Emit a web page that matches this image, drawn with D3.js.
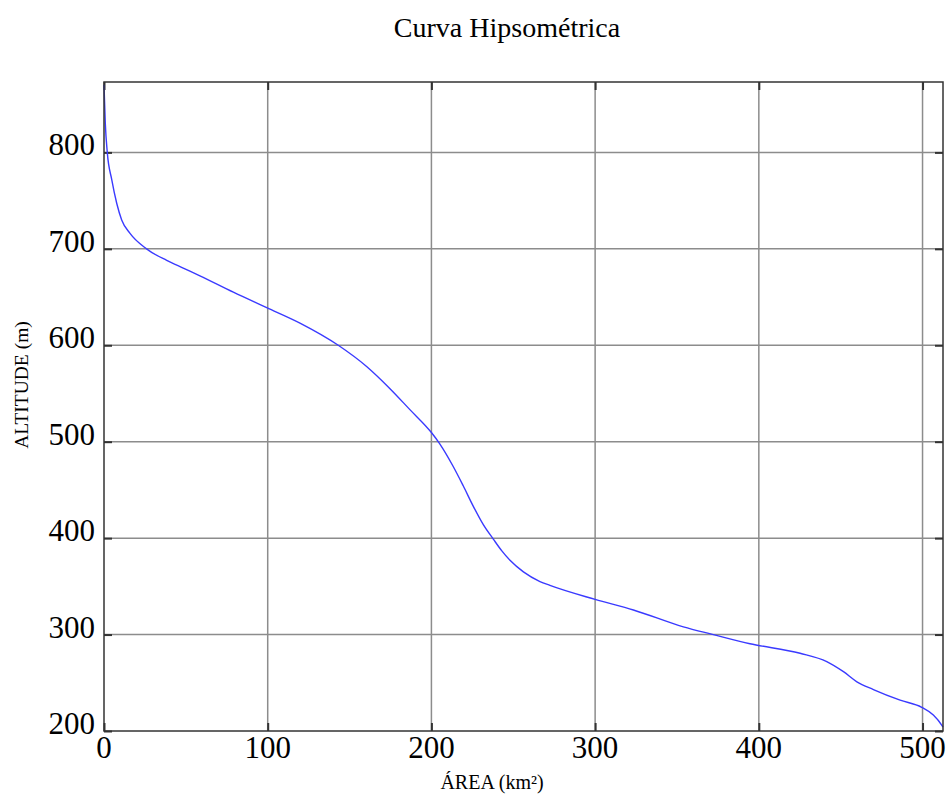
<!DOCTYPE html>
<html><head><meta charset="utf-8">
<script src="https://cdn.jsdelivr.net/npm/d3@7"></script>
<style>body{margin:0;background:#fff}svg{display:block}text{font-family:"Liberation Serif","Times New Roman",serif;fill:#000}</style>
</head><body>
<script>
const title = "Curva Hipsométrica";
const xLabel = "ÁREA (km²)";
const yLabel = "ALTITUDE (m)";
const xTicks = [0, 100, 200, 300, 400, 500];
const yTicks = [200, 300, 400, 500, 600, 700, 800];
const area = [0, 0.8, 2, 4.7, 7.8, 10.8, 15.9, 26, 38.3, 48.4, 58.6, 79, 99.4, 119.7, 143.1, 160.4, 174.7, 187, 200, 205, 213.4, 219.5, 225.6, 231.7, 237.8, 242.9, 248, 256.2, 266.3, 272.4, 300, 323.4, 353.9, 372.2, 394.6, 425.2, 441.5, 451.7, 459.9, 470, 486.3, 499.5, 506.6, 511.7, 512.5];
const altitude = [870, 830, 800, 772, 747, 730, 716, 700, 688, 680, 672, 655, 639, 623, 600, 578, 555, 533, 509.5, 498, 474, 454, 433, 414, 399, 387, 377, 365, 355, 351, 336.5, 325.5, 308, 300, 290.5, 280.6, 272, 261.5, 251, 243, 232, 224.6, 216.6, 206.2, 204];

const W = 947, H = 794;
const m = {left: 104, right: 943, top: 82, bottom: 731};
const svg = d3.select("body").append("svg").attr("width", W).attr("height", H);
const x = d3.scaleLinear().domain([0, 512.5]).range([m.left, m.right]);
const y = d3.scaleLinear().domain([200, 873]).range([m.bottom, m.top]);

// grid
svg.append("g").selectAll("line").data(xTicks.filter(t => t > 0)).join("line")
  .attr("x1", d => x(d)).attr("x2", d => x(d)).attr("y1", m.top).attr("y2", m.bottom)
  .attr("stroke", "#8c8c8c").attr("stroke-width", 1.5);
svg.append("g").selectAll("line").data(yTicks.filter(t => t > 200)).join("line")
  .attr("x1", m.left).attr("x2", m.right).attr("y1", d => y(d)).attr("y2", d => y(d))
  .attr("stroke", "#8c8c8c").attr("stroke-width", 1.5);

// inner ticks via d3 axes
const tl = 8;
const axB = svg.append("g").attr("transform", `translate(0,${m.bottom})`).call(d3.axisBottom(x).tickValues(xTicks).tickSize(-tl).tickFormat(""));
const axT = svg.append("g").attr("transform", `translate(0,${m.top})`).call(d3.axisTop(x).tickValues(xTicks).tickSize(-tl).tickFormat(""));
const axL = svg.append("g").attr("transform", `translate(${m.left},0)`).call(d3.axisLeft(y).tickValues(yTicks).tickSize(-tl).tickFormat(""));
const axR = svg.append("g").attr("transform", `translate(${m.right},0)`).call(d3.axisRight(y).tickValues(yTicks).tickSize(-tl).tickFormat(""));
[axB, axT, axL, axR].forEach(a => { a.select(".domain").remove(); a.selectAll("line").attr("stroke", "#333").attr("stroke-width", 2); });

// tick labels
svg.append("g").selectAll("text").data(xTicks).join("text")
  .attr("x", d => x(d)).attr("y", m.bottom + 27).attr("text-anchor", "middle")
  .attr("font-size", 31).text(d => d);
svg.append("g").selectAll("text").data(yTicks).join("text")
  .attr("x", m.left - 9).attr("y", d => y(d) + 3).attr("text-anchor", "end")
  .attr("font-size", 31).text(d => d);

// curve
const pts = area.map((a, i) => [a, altitude[i]]);
svg.append("path").datum(pts)
  .attr("d", d3.line().x(d => x(d[0])).y(d => y(d[1])).curve(d3.curveMonotoneX))
  .attr("fill", "none").attr("stroke", "#3a3aff").attr("stroke-width", 1.4);

// frame
svg.append("rect").attr("x", m.left).attr("y", m.top).attr("width", m.right - m.left).attr("height", m.bottom - m.top)
  .attr("fill", "none").attr("stroke", "#333").attr("stroke-width", 1.5);

// titles
svg.append("text").attr("x", 507).attr("y", 37).attr("text-anchor", "middle").attr("font-size", 28).text(title);
svg.append("text").attr("x", 492).attr("y", 789).attr("text-anchor", "middle").attr("font-size", 20).text(xLabel);
svg.append("text").attr("transform", `translate(28,385) rotate(-90)`).attr("text-anchor", "middle").attr("font-size", 19.5).text(yLabel);
</script>
</body></html>
